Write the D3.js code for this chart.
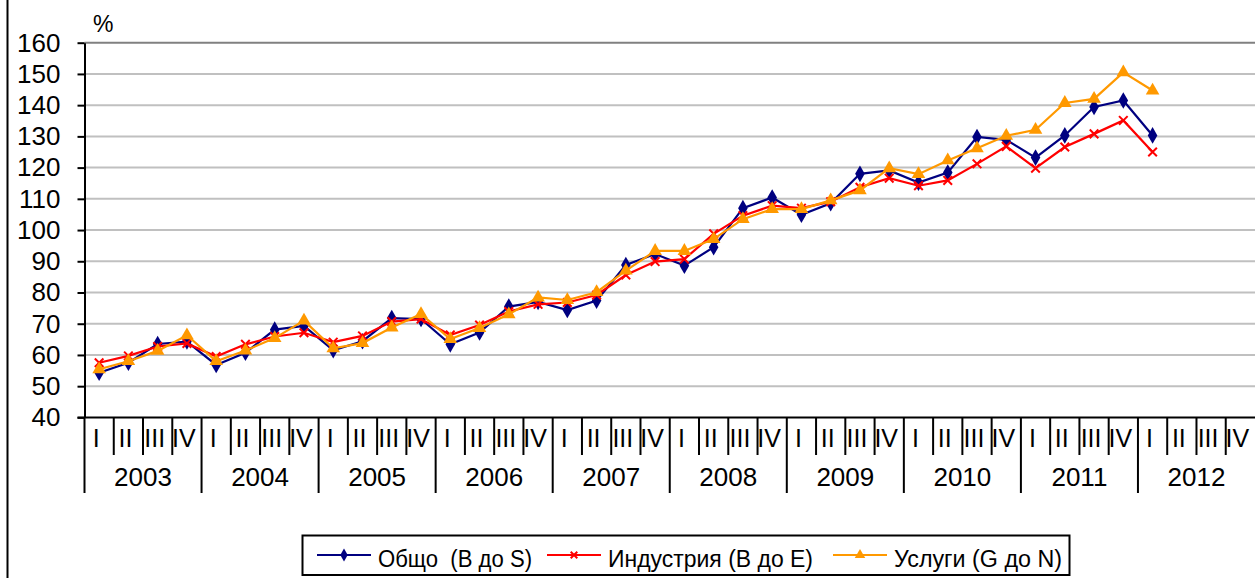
<!DOCTYPE html>
<html>
<head>
<meta charset="utf-8">
<script src="https://cdnjs.cloudflare.com/ajax/libs/d3/7.8.5/d3.min.js"></script>
<style>
  body { margin: 0; background: #fff; }
  svg { display: block; font-family: Arial, "Liberation Sans", sans-serif; }
</style>
</head>
<body>
<svg id="chart" width="1255" height="578"></svg>
<script>

// data, quarterly 2003 Q1 .. 2012 Q1
var years = ['2003','2004','2005','2006','2007','2008','2009','2010','2011','2012'];
var quarters = ['I','II','III','IV'];

var obshto = [
  54.3, 57.5, 63.5, 64.3,
  56.8, 60.7, 68.1, 69.3,
  61.5, 64.4, 71.8, 71.5,
  63.4, 67.2, 75.5, 77.0,
  74.4, 77.4, 88.8, 92.3,
  88.6, 94.5, 107.0, 110.4,
  104.9, 108.6, 118.0, 119.1,
  115.2, 118.4, 129.8, 128.9,
  123.2, 130.3, 139.4, 141.5,
  130.3
];
var industria = [
  57.5, 59.7, 62.7, 63.7,
  59.5, 63.4, 65.9, 67.1,
  64.1, 66.1, 70.7, 71.5,
  66.4, 69.6, 73.9, 76.2,
  76.8, 79.2, 85.6, 89.9,
  90.7, 98.8, 104.6, 107.8,
  107.0, 109.1, 113.7, 116.6,
  114.2, 115.9, 121.2, 126.8,
  119.8, 126.6, 130.8, 135.1,
  125.0
];
var uslugi = [
  55.4, 58.0, 61.3, 66.3,
  58.0, 61.4, 65.4, 71.0,
  62.1, 63.8, 68.8, 73.1,
  65.1, 68.6, 73.0, 78.4,
  77.6, 80.1, 87.0, 93.3,
  93.3, 97.1, 103.5, 106.7,
  106.7, 109.5, 112.7, 119.8,
  117.9, 122.3, 126.2, 130.2,
  132.1, 140.7, 142.0, 150.5,
  144.7
];
var yTicks = [40, 50, 60, 70, 80, 90, 100, 110, 120, 130, 140, 150, 160];

var series = [
  {name: 'Общо  (B до S)', values: obshto, color: '#000080', marker: 'diamond'},
  {name: 'Индустрия (B до E)', values: industria, color: '#ff0000', marker: 'cross'},
  {name: 'Услуги (G до N)', values: uslugi, color: '#ff9900', marker: 'triangle'}
];

// all quarter keys, e.g. "2003-I"
var keys = [];
years.forEach(function(yr){
  quarters.forEach(function(q){ keys.push(yr + '-' + q); });
});

var svg = d3.select('#chart');
var plotLeft = 84.5, plotRight = 1255, plotTop = 42.7, plotBottom = 417.4;

var x = d3.scaleBand().domain(keys).range([plotLeft, plotRight]);
var y = d3.scaleLinear().domain([40, 160]).range([plotBottom, plotTop]);

// outer chart border (left side only visible)
svg.append('line')
  .attr('x1', 7.5).attr('x2', 7.5).attr('y1', 0).attr('y2', 578)
  .attr('stroke', '#000').attr('stroke-width', 2);

// gridlines
svg.append('g').selectAll('line')
  .data(yTicks.filter(function(d){ return d > 40; }))
  .enter().append('line')
    .attr('x1', plotLeft).attr('x2', plotRight)
    .attr('y1', function(d){ return y(d); })
    .attr('y2', function(d){ return y(d); })
    .attr('stroke', function(d){ return d == 160 ? '#808080' : '#c0c0c0'; })
    .attr('stroke-width', 2);

// y axis
var yAxis = svg.append('g')
  .attr('transform', 'translate(' + plotLeft + ',0)')
  .call(d3.axisLeft(y).tickValues(yTicks).tickSize(7).tickPadding(17).tickSizeOuter(0));
yAxis.select('.domain').attr('stroke', '#000').attr('stroke-width', 2);
yAxis.selectAll('.tick line').attr('stroke', '#000').attr('stroke-width', 2);
yAxis.selectAll('.tick text')
  .attr('font-size', 26).attr('font-family', 'Arial, "Liberation Sans", sans-serif')
  .attr('fill', '#000');

svg.append('text')
  .attr('x', 93).attr('y', 32)
  .attr('font-size', 23).attr('fill', '#000')
  .text('%');

// x axis: line, quarter and year separators
var xg = svg.append('g');
xg.append('line')
  .attr('x1', plotLeft - 7).attr('x2', plotRight)
  .attr('y1', plotBottom).attr('y2', plotBottom)
  .attr('stroke', '#000').attr('stroke-width', 2);

xg.selectAll('.qsep')
  .data(keys)
  .enter().append('line')
    .attr('class', 'qsep')
    .attr('x1', function(d){ return x(d); })
    .attr('x2', function(d){ return x(d); })
    .attr('y1', plotBottom)
    .attr('y2', function(d){ return d.split('-')[1] == 'I' ? 493 : 455; })
    .attr('stroke', '#000').attr('stroke-width', 2);

xg.selectAll('.qlab')
  .data(keys)
  .enter().append('text')
    .attr('class', 'qlab')
    .attr('x', function(d){ return x(d) + x.bandwidth() / 2 - 3; })
    .attr('y', 447)
    .attr('text-anchor', 'middle')
    .attr('font-size', 25).attr('fill', '#000')
    .text(function(d){ return d.split('-')[1]; });

xg.selectAll('.ylab')
  .data(years)
  .enter().append('text')
    .attr('class', 'ylab')
    .attr('x', function(d){ return x(d + '-I') + x.bandwidth() * 2; })
    .attr('y', 486)
    .attr('text-anchor', 'middle')
    .attr('font-size', 26).attr('fill', '#000')
    .text(function(d){ return d; });

// markers
function drawMarker(sel, type, color, size){
  if (type == 'diamond'){
    sel.append('path')
      .attr('d', d3.symbol().type(d3.symbolDiamond).size(size * 8))
      .attr('fill', color);
  } else if (type == 'triangle'){
    sel.append('path')
      .attr('d', d3.symbol().type(d3.symbolTriangle).size(size * 8))
      .attr('fill', color);
  } else {
    sel.append('path')
      .attr('d', d3.symbol().type(d3.symbolTimes).size(size * 5))
      .attr('fill', 'none').attr('stroke', color).attr('stroke-width', 2);
  }
}

var line = d3.line()
  .x(function(d, i){ return x(keys[i]) + x.bandwidth() / 2; })
  .y(function(d){ return y(d); });

series.forEach(function(s){
  var g = svg.append('g');
  g.append('path')
    .datum(s.values)
    .attr('fill', 'none')
    .attr('stroke', s.color)
    .attr('stroke-width', 2.2)
    .attr('d', line);

  g.selectAll('.pt')
    .data(s.values)
    .enter().append('g')
      .attr('class', 'pt')
      .attr('transform', function(d, i){
        return 'translate(' + (x(keys[i]) + x.bandwidth() / 2) + ',' + y(d) + ')';
      })
      .each(function(){ drawMarker(d3.select(this), s.marker, s.color, 10); });
});

// legend
var legend = svg.append('g');
legend.append('rect')
  .attr('x', 302.5).attr('y', 535.5).attr('width', 767).attr('height', 39.5)
  .attr('fill', '#fff').attr('stroke', '#000').attr('stroke-width', 2);

var legendX = [317, 547, 833];
series.forEach(function(s, i){
  var lg = legend.append('g').attr('transform', 'translate(' + legendX[i] + ',555)');
  lg.append('line')
    .attr('x1', 0).attr('x2', 54).attr('y1', 0).attr('y2', 0)
    .attr('stroke', s.color).attr('stroke-width', 2);
  var m = lg.append('g').attr('transform', 'translate(27,0)');
  drawMarker(m, s.marker, s.color, 6);
  lg.append('text')
    .attr('x', 61).attr('y', 12)
    .attr('font-size', 23).attr('fill', '#000')
    .style('white-space', 'pre')
    .attr('textLength', [154, 205, 168][i])
    .attr('lengthAdjust', 'spacingAndGlyphs')
    .text(s.name);
});

</script>
</body>
</html>
